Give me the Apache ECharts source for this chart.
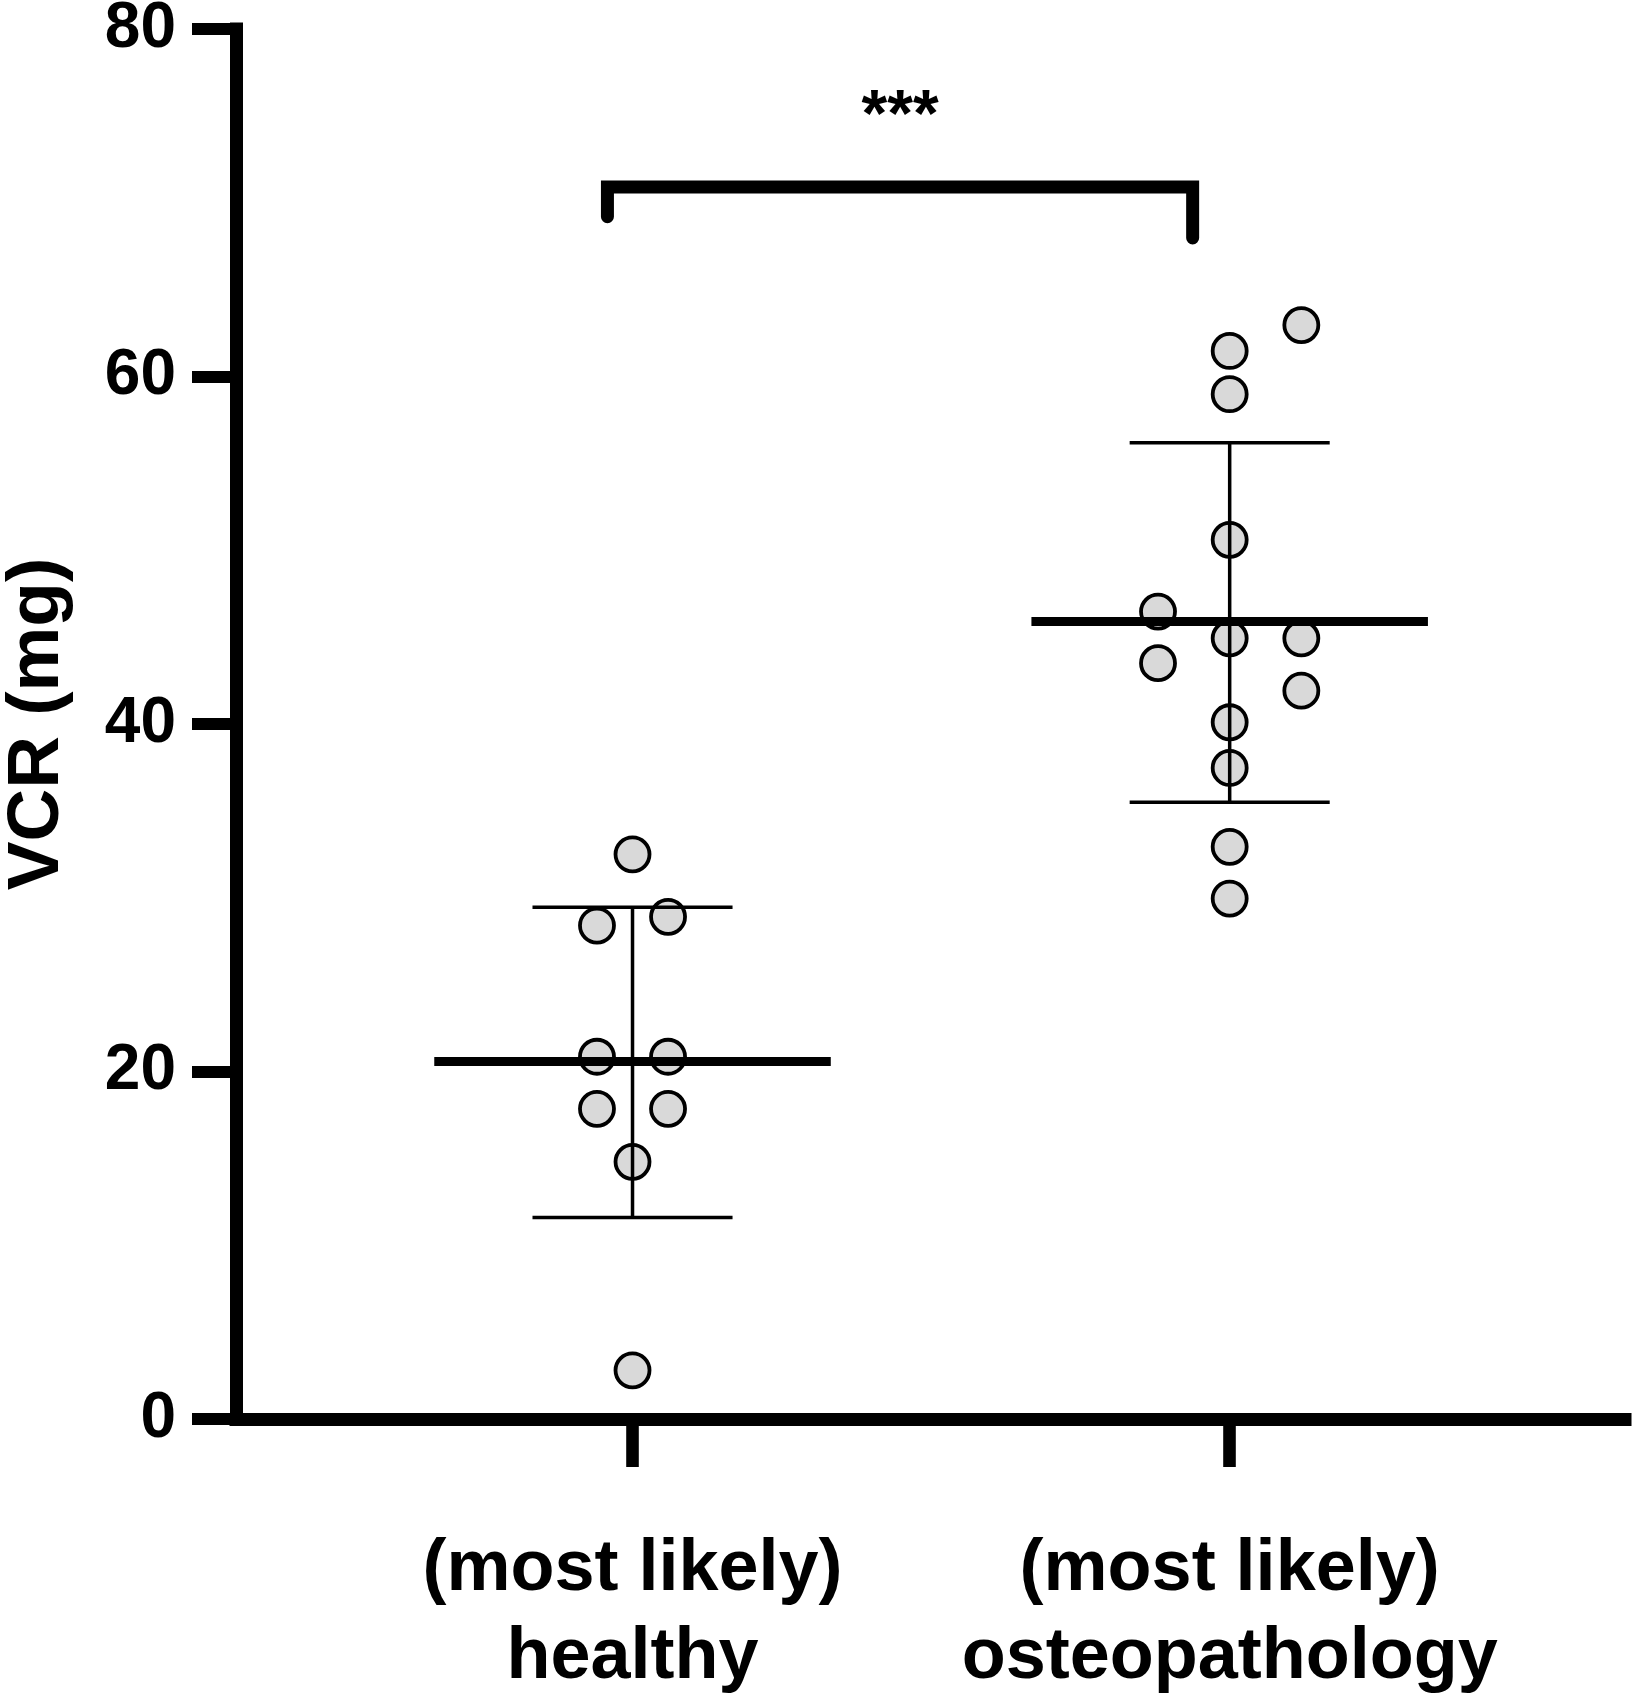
<!DOCTYPE html>
<html>
<head>
<meta charset="utf-8">
<script src="https://cdn.jsdelivr.net/npm/echarts@6/dist/echarts.min.js"></script>
<style>
  html, body { margin: 0; padding: 0; background: #fff; }
  #main { width: 1633px; height: 1700px; }
</style>
</head>
<body>
<div id="main"></div>
<script>
(function () {
    "use strict";

    // groups on the x axis
    var categories = ['(most likely)\nhealthy', '(most likely)\nosteopathology'];
    var yTicks = [0, 20, 40, 60, 80];

    // individual VCR values (mg) and their column slot (-1 left, 0 centre, 1 right)
    var healthy = [32.5, 28.4, 28.9, 20.85, 20.85, 17.85, 17.85, 14.8, 2.8];
    var healthySlot = [0, -1, 1, -1, 1, -1, 1, 0, 0];
    var osteo = [62.96, 61.47, 58.98, 50.6, 46.47, 44.93, 44.93, 43.5, 41.92, 40.1, 37.47, 32.93, 29.95];
    var osteoSlot = [1, 0, 0, 0, -1, 0, 1, -1, 1, 0, 0, 0, 0];

    // mean and +/- SD bounds per group
    var means = [20.58, 45.9];
    var sdUpper = [29.45, 56.18];
    var sdLower = [11.6, 35.5];

    // significance bracket levels: left leg end, bar, right leg end
    var bracketY = [69.2, 70.9, 67.97];
    var sigText = '***';

    var font = '"Liberation Sans", Arial, Helvetica, sans-serif';
    var jitter = [0.0595, 0.12];     // column spread per group (x units)
    var meanHalf = 0.332;
    var capHalf = 0.1675;

    var myChart = echarts.init(document.getElementById('main'));

    function seg(x1, y1, x2, y2, width) {
        return {
            type: 'line',
            data: [[x1, y1], [x2, y2]],
            symbol: 'none',
            silent: true,
            z: 5,
            lineStyle: { color: '#000', width: width, cap: 'butt' },
            animation: false
        };
    }

    var dotStyle = {
        color: '#d9d9d9',
        borderColor: '#000',
        borderWidth: 3.8,
        opacity: 1
    };

    var series = [
        {
            type: 'scatter',
            data: healthy.map(function (v, i) { return [healthySlot[i] * jitter[0], v]; }),
            symbolSize: 34,
            itemStyle: dotStyle,
            z: 3
        },
        {
            type: 'scatter',
            data: osteo.map(function (v, i) { return [1 + osteoSlot[i] * jitter[1], v]; }),
            symbolSize: 34,
            itemStyle: dotStyle,
            z: 3
        }
    ];

    means.forEach(function (m, g) {
        series.push(seg(g - meanHalf, m, g + meanHalf, m, 9));
        series.push(seg(g, sdLower[g], g, sdUpper[g], 3.5));
        series.push(seg(g - capHalf, sdUpper[g], g + capHalf, sdUpper[g], 3.5));
        series.push(seg(g - capHalf, sdLower[g], g + capHalf, sdLower[g], 3.5));
    });

    // bracket between the two groups
    var bl = -0.042, br = 0.938;
    series.push({
        type: 'line',
        data: [[bl, bracketY[0]], [bl, bracketY[1]], [br, bracketY[1]], [br, bracketY[2]]],
        symbol: 'none',
        silent: true,
        lineStyle: { color: '#000', width: 13, cap: 'round', join: 'miter' },
        animation: false
    });
    series.push({
        type: 'scatter',
        data: [[(bl + br) / 2, 74.9]],
        symbolSize: 0,
        silent: true,
        itemStyle: { opacity: 1 },
        label: {
            show: true,
            position: 'inside',
            formatter: sigText,
            color: '#000',
            fontFamily: font,
            fontWeight: 'bold',
            fontSize: 66
        }
    });

    var option = {
        animation: false,
        backgroundColor: '#fff',
        grid: { left: 236, right: 8, top: 29, bottom: 281, outerBoundsMode: 'none', containLabel: false },
        xAxis: {
            type: 'value',
            min: -0.664,
            max: 1.662,
            splitLine: { show: false },
            axisLine: { show: true, onZero: false, lineStyle: { color: '#000', width: 13, cap: 'square' } },
            axisTick: {
                show: true,
                customValues: [0, 1],
                length: 48,
                lineStyle: { color: '#000', width: 12.6 }
            },
            axisLabel: {
                customValues: [0, 1],
                formatter: function (v) { return categories[Math.round(v)]; },
                margin: 107,
                color: '#000',
                fontFamily: font,
                fontWeight: 'bold',
                fontSize: 72,
                lineHeight: 88,
                align: 'center'
            }
        },
        yAxis: {
            type: 'value',
            min: 0,
            max: 80,
            interval: 20,
            name: 'VCR (mg)',
            nameLocation: 'middle',
            nameGap: 162,
            nameTextStyle: {
                color: '#000',
                fontFamily: font,
                fontWeight: 'bold',
                fontSize: 73
            },
            splitLine: { show: false },
            axisLine: { show: true, onZero: false, lineStyle: { color: '#000', width: 13, cap: 'square' } },
            axisTick: {
                show: true,
                length: 44,
                lineStyle: { color: '#000', width: 12 }
            },
            axisLabel: {
                margin: 60,
                color: '#000',
                fontFamily: font,
                fontWeight: 'bold',
                fontSize: 64,
                formatter: function (v) { return yTicks.indexOf(v) >= 0 ? String(v) : ''; }
            }
        },
        series: series
    };
    myChart.setOption(option);
})();
</script>
</body>
</html>
